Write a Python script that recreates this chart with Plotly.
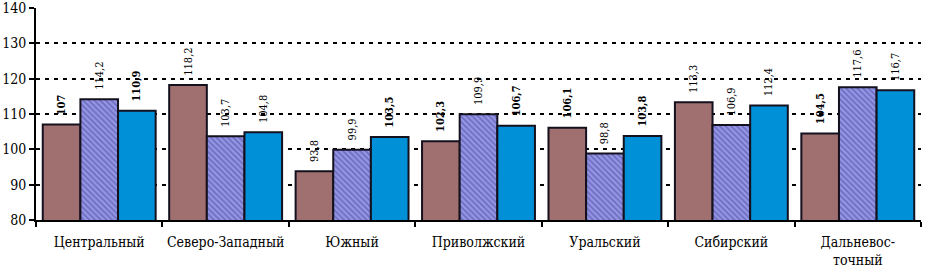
import plotly.graph_objects as go

regions = ["Центральный", "Северо-Западный", "Южный", "Приволжский",
           "Уральский", "Сибирский", "Дальневос-<br>точный"]
series_a = [107.0, 118.2, 93.8, 102.3, 106.1, 113.3, 104.5]
series_b = [114.2, 103.7, 99.9, 109.9, 98.8, 106.9, 117.6]
series_c = [110.9, 104.8, 103.5, 106.7, 103.8, 112.4, 116.7]
bold_a = [True, False, False, True, True, False, True]
bold_b = [False, False, False, False, False, False, False]
bold_c = [True, False, True, True, True, False, False]
y_ticks = [80, 90, 100, 110, 120, 130, 140]


def fmt(v, b):
    s = ("%.1f" % v).replace(".", ",")
    if s.endswith(",0"):
        s = s[:-2]
    s = "<b>%s</b>" % s if b else s
    return "\u00a0\u00a0" + s


font = "DejaVu Serif Condensed, serif"
line = dict(color="#14101e", width=2)

fig = go.Figure()
fig.add_trace(go.Bar(
    x=regions, y=series_a, text=[fmt(v, b) for v, b in zip(series_a, bold_a)],
    marker=dict(color="#a07070", line=line), name="A"))
fig.add_trace(go.Bar(
    x=regions, y=series_b, text=[fmt(v, b) for v, b in zip(series_b, bold_b)],
    marker=dict(color="#9090e0", line=line,
                pattern=dict(shape="\\", fgcolor="#3a3a90", bgcolor="#9494e4",
                             size=4, solidity=0.35, fillmode="overlay")),
    name="B"))
fig.add_trace(go.Bar(
    x=regions, y=series_c, text=[fmt(v, b) for v, b in zip(series_c, bold_c)],
    marker=dict(color="#0090d8", line=line), name="C"))

fig.update_traces(textposition="outside", textangle=-90, cliponaxis=False,
                  constraintext="none",
                  textfont=dict(family="DejaVu Serif Condensed, serif", size=11,
                                color="black"))

fig.update_layout(
    width=926, height=272,
    margin=dict(l=36, r=5, t=8, b=52, autoexpand=False),
    paper_bgcolor="white", plot_bgcolor="white",
    barmode="group", bargap=0.107, bargroupgap=0,
    showlegend=False,
    font=dict(family=font, size=15, color="black"),
    xaxis=dict(range=[-0.5, 6.5], showline=True, linecolor="black", linewidth=2,
               ticks="outside", tickson="boundaries", ticklen=5, tickwidth=2,
               tickcolor="black", showgrid=False, automargin=False, tickangle=0,
               ticklabelstandoff=8,
               tickfont=dict(family=font, size=14, color="black")),
    yaxis=dict(range=[80, 140], tickvals=y_ticks, showline=True, linecolor="black",
               linewidth=2, ticks="outside", ticklen=5, tickwidth=2,
               tickcolor="black", showgrid=True, gridcolor="black", gridwidth=2,
               griddash="4px,5px", zeroline=False, automargin=False,
               ticklabeloverflow="allow",
               tickfont=dict(family=font, size=14, color="black")),
)

fig.write_html("out.html", config={"displayModeBar": False},
               post_script="document.body.style.margin='0';")
